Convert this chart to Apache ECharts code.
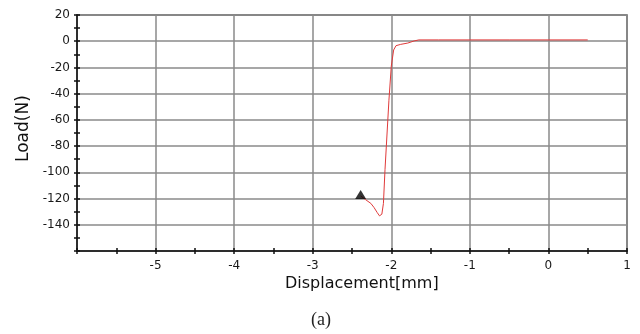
<!DOCTYPE html>
<html>
<head>
<meta charset="utf-8">
<script src="https://cdn.jsdelivr.net/npm/echarts@6/dist/echarts.min.js"></script>
<style>html,body{margin:0;padding:0;background:#fff}#c{width:640px;height:334px}</style>
</head>
<body>
<div id="c"></div>
<script>
// Curve: displacement (mm) and load (N)
var dispX = [-2.39, -2.33, -2.26, -2.22, -2.18, -2.15, -2.12, -2.10, -2.08, -2.03, -2.00, -1.97, -1.94, -1.88, -1.79, -1.71, -1.65, -1.40, -1.00, -0.50, 0.00, 0.50];
var loadY = [-118, -120.7, -123.7, -126.8, -130.6, -133.2, -131.9, -123.7, -98, -45, -19, -6.7, -3.4, -2.4, -1.4, 0.2, 1, 1, 1, 1, 1, 1];
var markerX = [-2.39];
var markerY = [-117];
var xTicks = [-6, -5, -4, -3, -2, -1, 0, 1];
var yTicks = [-160, -140, -120, -100, -80, -60, -40, -20, 0, 20];

var curve = dispX.map(function (x, i) { return [x, loadY[i]]; });
var marker = markerX.map(function (x, i) { return [x, markerY[i]]; });

var chart = echarts.init(document.getElementById('c'), null, {renderer: 'canvas'});
var font = 'DejaVu Sans';
var tickStyle = {color: '#111', width: 1.5};
function baseX(inside) {
  return {
    type: 'value', min: xTicks[0], max: xTicks[xTicks.length - 1], interval: 1,
    axisLine: {show: !inside, onZero: false, lineStyle: {color: '#111', width: 1.5}},
    axisTick: {show: true, inside: inside, length: 3, lineStyle: tickStyle},
    minorTick: {show: true, splitNumber: 2, length: 3, lineStyle: tickStyle},
    splitLine: {show: !inside, lineStyle: {color: '#8a8a8a', width: 1.5}},
    axisLabel: {show: !inside, color: '#1a1a1a', fontFamily: font, fontSize: 12, margin: 9,
      formatter: function (v) { return v === xTicks[0] ? '' : String(v); }}
  };
}
function baseY(inside) {
  return {
    type: 'value', min: yTicks[0], max: yTicks[yTicks.length - 1], interval: 20,
    axisLine: {show: !inside, onZero: false, lineStyle: {color: '#111', width: 1.5}},
    axisTick: {show: true, inside: inside, length: 3, lineStyle: tickStyle},
    minorTick: {show: true, splitNumber: 2, length: 3, lineStyle: tickStyle},
    splitLine: {show: !inside, lineStyle: {color: '#8a8a8a', width: 1.5}},
    axisLabel: {show: !inside, color: '#1a1a1a', fontFamily: font, fontSize: 12, margin: 7,
      formatter: function (v) { return v === yTicks[0] ? '' : String(v); }}
  };
}
var x2 = baseX(true); x2.position = 'bottom';
var y2 = baseY(true); y2.position = 'left';
chart.setOption({
  animation: false,
  backgroundColor: '#fff',
  grid: {left: 77, right: 13, top: 15, bottom: 83, show: true, borderColor: '#555', borderWidth: 1.5, backgroundColor: 'transparent'},
  xAxis: [baseX(false), x2],
  yAxis: [baseY(false), y2],
  graphic: [
    {type: 'text', left: 285, top: 276, style: {text: 'Displacement[mm]', font: '16px "DejaVu Sans"', fill: '#111'}},
    {type: 'text', x: 15, y: 162, rotation: Math.PI / 2, style: {text: 'Load(N)', font: '17px "DejaVu Sans"', fill: '#111'}},
    {type: 'text', left: 311, top: 311, style: {text: '(a)', font: '18px "Liberation Serif"', fill: '#222'}}
  ],
  series: [
    {type: 'line', data: curve, showSymbol: false, lineStyle: {color: '#e03a3a', width: 1}, z: 3},
    {type: 'scatter', data: marker, symbol: 'triangle', symbolSize: [11, 9], itemStyle: {color: '#000'}, z: 4}
  ]
});
</script>
</body>
</html>
